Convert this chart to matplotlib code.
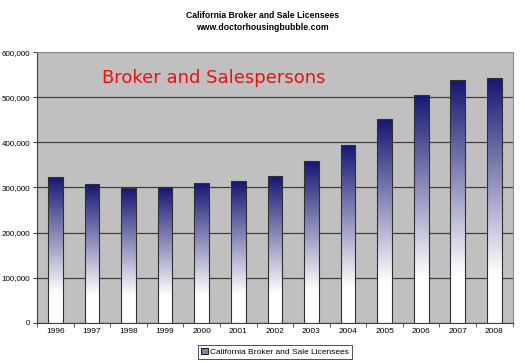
import numpy as np
import matplotlib
matplotlib.use('Agg')
import matplotlib.pyplot as plt
from matplotlib.colors import LinearSegmentedColormap
from matplotlib.patches import Patch

years = ['1996', '1997', '1998', '1999', '2000', '2001', '2002',
         '2003', '2004', '2005', '2006', '2007', '2008']
licensees = [324000, 308000, 299000, 300000, 309000, 315000, 326000,
             358000, 395000, 452000, 506000, 538000, 543000]
yticks = [0, 100000, 200000, 300000, 400000, 500000, 600000]

plt.rcParams['font.family'] = ['Liberation Sans', 'DejaVu Sans']

fig = plt.figure(figsize=(5.25, 3.63), dpi=100)
ax = fig.add_axes([0.0705, 0.111, 0.906, 0.745])
ax.set_facecolor('#c0c0c0')

# gradient: navy at top, white in the bottom part
cmap = LinearSegmentedColormap.from_list('grad', [(0, 'white'), (0.2, 'white'), (1, '#161672')])
grad = np.linspace(0, 1, 256).reshape(-1, 1)

x = np.arange(len(years))
width = 0.4
bars = ax.bar(x, licensees, width=width, facecolor='none', edgecolor='#303030',
              linewidth=0.8, zorder=3)
for b in bars:
    x0, y0 = b.get_x(), b.get_y()
    im = ax.imshow(grad, cmap=cmap, aspect='auto', origin='lower',
                   extent=[x0, x0 + b.get_width(), y0, y0 + b.get_height()], zorder=2)
    im.set_clip_path(b)

ax.set_xlim(-0.5, len(years) - 0.5)
ax.set_ylim(0, 600000)
ax.set_yticks(yticks)
ax.set_yticklabels(['{:,}'.format(v) for v in yticks], fontsize=5.8)
ax.yaxis.grid(True, color='#404040', linewidth=0.9, zorder=1)
ax.set_axisbelow(True)

ax.set_xticks(x)
ax.set_xticklabels(years, fontsize=6)
ax.tick_params(axis='x', length=0, pad=4)
ax.set_xticks(np.arange(-0.5, len(years)), minor=True)
ax.tick_params(axis='x', which='minor', length=3, direction='out', color='#404040')
ax.tick_params(axis='y', length=3, direction='out', color='#404040', pad=2)

for side in ['top', 'right']:
    ax.spines[side].set_color('#909090')
    ax.spines[side].set_linewidth(0.8)
for side in ['left', 'bottom']:
    ax.spines[side].set_color('#404040')
    ax.spines[side].set_linewidth(0.8)

ax.text(0.137, 0.905, 'Broker and Salespersons', transform=ax.transAxes,
        color='#ee1111', fontsize=13, family='DejaVu Sans', va='center', ha='left')

fig.text(0.5, 0.958, 'California Broker and Sale Licensees', ha='center', va='center',
         fontsize=6.2, fontweight='bold')
fig.text(0.5, 0.925, 'www.doctorhousingbubble.com', ha='center', va='center',
         fontsize=6.2, fontweight='bold')

handle = Patch(facecolor='#8080b0', edgecolor='black', linewidth=0.6)
leg = fig.legend([handle], ['California Broker and Sale Licensees'], loc='center',
                 bbox_to_anchor=(0.524, 0.03), fontsize=6, frameon=True, fancybox=False,
                 handlelength=0.8, handleheight=0.8, handletextpad=0.3, borderpad=0.35)
leg.get_frame().set_edgecolor('black')
leg.get_frame().set_linewidth(0.6)

fig.savefig('out.png', dpi=100)
